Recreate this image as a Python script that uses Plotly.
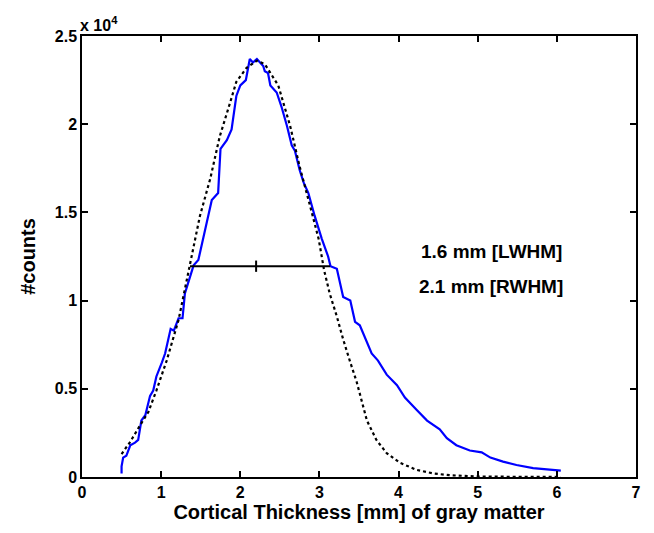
import numpy as np
import plotly.graph_objects as go

# Measured histogram (blue), counts in units of 1e4
hist_x = [0.50, 0.50, 0.52, 0.56, 0.61, 0.67, 0.71, 0.75, 0.80, 0.86, 0.90, 0.94, 1.01, 1.05,
          1.12, 1.16, 1.22, 1.27, 1.30, 1.36, 1.41, 1.47, 1.53, 1.64, 1.72, 1.75, 1.83, 1.89,
          1.95, 2.00, 2.07, 2.12, 2.16, 2.21, 2.29, 2.31, 2.35, 2.38, 2.46, 2.52, 2.59, 2.65,
          2.69, 2.75, 2.80, 2.86, 2.94, 3.03, 3.11, 3.14, 3.22, 3.30, 3.39, 3.45, 3.51, 3.58,
          3.66, 3.74, 3.85, 3.98, 4.08, 4.23, 4.36, 4.52, 4.61, 4.73, 4.90, 5.05, 5.16, 5.32,
          5.49, 5.70, 5.91, 6.05]
hist_y = [0.02, 0.06, 0.11, 0.12, 0.18, 0.195, 0.21, 0.32, 0.35, 0.46, 0.49, 0.57, 0.65, 0.70,
          0.84, 0.83, 0.90, 0.90, 1.04, 1.12, 1.20, 1.23, 1.35, 1.57, 1.61, 1.86, 1.91, 1.97,
          2.16, 2.22, 2.25, 2.37, 2.35, 2.37, 2.33, 2.30, 2.29, 2.22, 2.18, 2.10, 1.99, 1.88,
          1.85, 1.74, 1.67, 1.61, 1.48, 1.35, 1.25, 1.195, 1.18, 1.02, 1.00, 0.88, 0.86, 0.78,
          0.70, 0.66, 0.58, 0.52, 0.45, 0.38, 0.32, 0.27, 0.22, 0.18, 0.15, 0.14, 0.11, 0.087,
          0.068, 0.05, 0.044, 0.036]

# Fitted curve (black dotted), counts in units of 1e4
fit_x = [0.50, 0.61, 0.73, 0.84, 0.94, 1.07, 1.22, 1.34, 1.49, 1.62, 1.74, 1.87, 1.95, 2.08,
         2.21, 2.31, 2.48, 2.63, 2.75, 2.88, 2.99, 3.06, 3.13, 3.22, 3.30, 3.39, 3.47, 3.60,
         3.72, 3.85, 4.02, 4.23, 4.44, 4.65, 5.00, 5.50, 6.05]
fit_y = [0.13, 0.20, 0.29, 0.37, 0.49, 0.66, 0.89, 1.15, 1.48, 1.69, 1.93, 2.12, 2.24, 2.32,
         2.36, 2.34, 2.22, 1.99, 1.76, 1.54, 1.35, 1.17, 1.04, 0.91, 0.78, 0.65, 0.54, 0.32,
         0.21, 0.135, 0.08, 0.04, 0.02, 0.01, 0.003, 0.001, 0.0]

# Half-width-at-half-maximum marker
hwhm_level = 1.195
hwhm_left = 1.365
hwhm_right = 3.135
peak_x = 2.2
peak_tick_half = 0.032

x_ticks = [0, 1, 2, 3, 4, 5, 6, 7]
y_ticks = [0, 0.5, 1, 1.5, 2, 2.5]
y_tick_text = ["0", "0.5", "1", "1.5", "2", "2.5"]
scale = 1e4

labels = ["1.6 mm [LWHM]", "2.1 mm [RWHM]"]
label_x = 5.17
label_y = [1.28, 1.08]

font = "Liberation Sans, Arial, sans-serif"

fig = go.Figure()
fig.add_trace(go.Scatter(x=hist_x, y=np.array(hist_y) * scale, mode="lines",
                         line=dict(color="#0000ff", width=2.2), showlegend=False))
fig.add_trace(go.Scatter(x=fit_x, y=np.array(fit_y) * scale, mode="lines",
                         line=dict(color="black", width=2.2, dash="dot"), showlegend=False))
fig.add_trace(go.Scatter(x=[hwhm_left, hwhm_right], y=[hwhm_level * scale] * 2, mode="lines",
                         line=dict(color="black", width=2), showlegend=False))
fig.add_trace(go.Scatter(x=[peak_x, peak_x],
                         y=[(hwhm_level - peak_tick_half) * scale, (hwhm_level + peak_tick_half) * scale],
                         mode="lines", line=dict(color="black", width=2), showlegend=False))

for t, yy in zip(labels, label_y):
    fig.add_annotation(x=label_x, y=yy * scale, text="<b>%s</b>" % t, showarrow=False,
                       font=dict(family=font, size=19, color="black"), xanchor="center", yanchor="middle")

fig.add_annotation(xref="paper", yref="paper", x=0, y=1, xanchor="left", yanchor="bottom",
                   text="<b>x 10<sup>4</sup></b>", showarrow=False, yshift=0, xshift=-4,
                   font=dict(family=font, size=16, color="black"))

axis_common = dict(showline=True, linecolor="black", linewidth=1.5, mirror="allticks",
                   ticks="inside", ticklen=6, tickcolor="black", tickwidth=1.5,
                   showgrid=False, zeroline=False,
                   tickfont=dict(family=font, size=16, color="black"))

fig.update_xaxes(range=[0, 7], tickvals=x_ticks, ticktext=["<b>%d</b>" % v for v in x_ticks],
                 title=dict(text="<b>Cortical Thickness [mm] of gray matter</b>",
                            font=dict(family=font, size=20, color="black"), standoff=2),
                 **axis_common)
fig.update_yaxes(range=[0, 2.5 * scale], tickvals=[v * scale for v in y_ticks],
                 ticktext=["<b>%s</b>" % s for s in y_tick_text],
                 title=dict(text="<b>#counts</b>", font=dict(family=font, size=20, color="black"),
                            standoff=14),
                 **axis_common)

# body margin of 8px in the page -> shrink figure so the plot area lands where the reference has it
fig.update_layout(width=646, height=525, margin=dict(l=74, r=18, t=28, b=56),
                  paper_bgcolor="white", plot_bgcolor="white",
                  font=dict(family=font, color="black"))

fig.write_html("out.html")
